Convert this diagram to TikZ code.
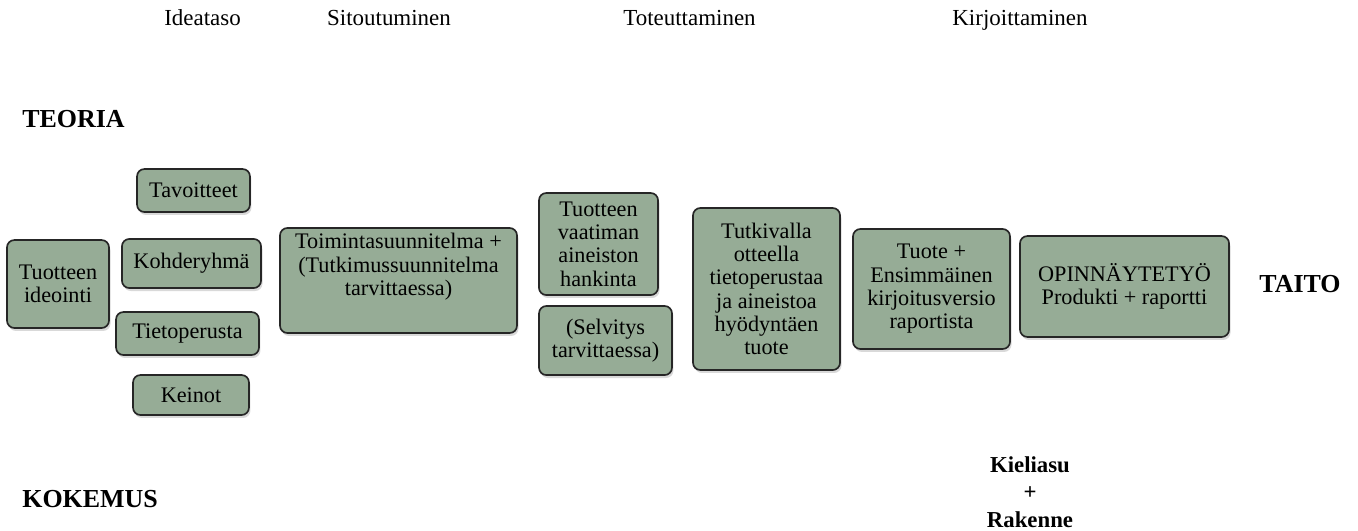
\documentclass[tikz,border=0pt]{standalone}
\usepackage{fontspec}
\setmainfont{Liberation Serif}
\usepackage{tikz}
\usetikzlibrary{shapes,arrows,positioning,shadows}
\definecolor{vihrea}{RGB}{150,172,150}
\tikzstyle{laatikko} = [draw=black!85, fill=vihrea, line width=0.9pt, rectangle, rounded corners=4pt, inner sep=1pt, align=center, font=\fontsize{12}{12.6}\selectfont, drop shadow={shadow xshift=0.8pt, shadow yshift=-1.6pt, opacity=0.3}]
\tikzstyle{vaihe} = [inner sep=0pt, font=\fontsize{12.4}{14}\selectfont]
\tikzstyle{akseli} = [inner sep=0pt, font=\fontsize{14}{16}\selectfont\bfseries]

\begin{document}
\begin{tikzpicture}[x=0.54pt, y=-0.54pt]
					\useasboundingbox (0,0) rectangle (1358,530);
					% vaiheet
					\node [vaihe, anchor=base] (ideataso) at (202.5,25) {Ideataso};
					\node [vaihe, anchor=base] (sitoutuminen) at (389,25) {Sitoutuminen};
					\node [vaihe, anchor=base] (toteuttaminen) at (689.5,25) {Toteuttaminen};
					\node [vaihe, anchor=base] (kirjoittaminen) at (1020,25) {Kirjoittaminen};
					% akselit
					\node [akseli, anchor=base west] (teoria) at (22,127) {TEORIA};
					\node [akseli, anchor=base west] (kokemus) at (22,507) {KOKEMUS};
					\node [akseli, anchor=base] (taito) at (1300,292) {TAITO};
					\node [akseli, anchor=north, align=center, font=\fontsize{12.3}{14.85}\selectfont\bfseries] (kieliasu) at (1030,456) {Kieliasu\\+\\Rakenne};
					% laatikot
					\node [laatikko, minimum width=55.1pt, minimum height=47.5pt] (idea) at (58,284) {Tuotteen\\ideointi};
					\node [laatikko, minimum width=61pt, minimum height=23.2pt] (tavoitteet) at (193.5,190.5) {Tavoitteet};
					\node [laatikko, minimum width=75.1pt, minimum height=26.5pt] (kohderyhma) at (191.5,263.5) {Kohderyhmä};
					\node [laatikko, minimum width=77.2pt, minimum height=23.2pt] (tietoperusta) at (187.5,333.5) {Tietoperusta};
					\node [laatikko, minimum width=62.6pt, minimum height=21.6pt] (keinot) at (191,395) {Keinot};
					\node [laatikko, minimum width=128pt, minimum height=56.7pt] (toiminta) at (398.5,280.5) {};
					\node [anchor=north, inner sep=0pt, align=center, font=\fontsize{12}{12.6}\selectfont] (toimintateksti) at (398.5,233) {Toimintasuunnitelma +\\(Tutkimussuunnitelma\\tarvittaessa)};
					\node [laatikko, minimum width=64.3pt, minimum height=55.1pt] (hankinta) at (598.5,244) {Tuotteen\\vaatiman\\aineiston\\hankinta};
					\node [laatikko, minimum width=71.8pt, minimum height=37.3pt] (selvitys) at (605.5,340.5) {(Selvitys\\tarvittaessa)};
					\node [laatikko, minimum width=79.4pt, minimum height=87.5pt] (tutkiva) at (766.5,289) {Tutkivalla\\otteella\\tietoperustaa\\ja aineistoa\\hyödyntäen\\tuote};
					\node [laatikko, minimum width=84.8pt, minimum height=64.8pt] (tuote) at (931.5,289) {Tuote +\\Ensimmäinen\\kirjoitusversio\\raportista};
					\node [laatikko, minimum width=112.9pt, minimum height=54.5pt] (opinnaytetyo) at (1124.5,286.5) {OPINNÄYTETYÖ\\Produkti + raportti};
\end{tikzpicture}
\end{document}
